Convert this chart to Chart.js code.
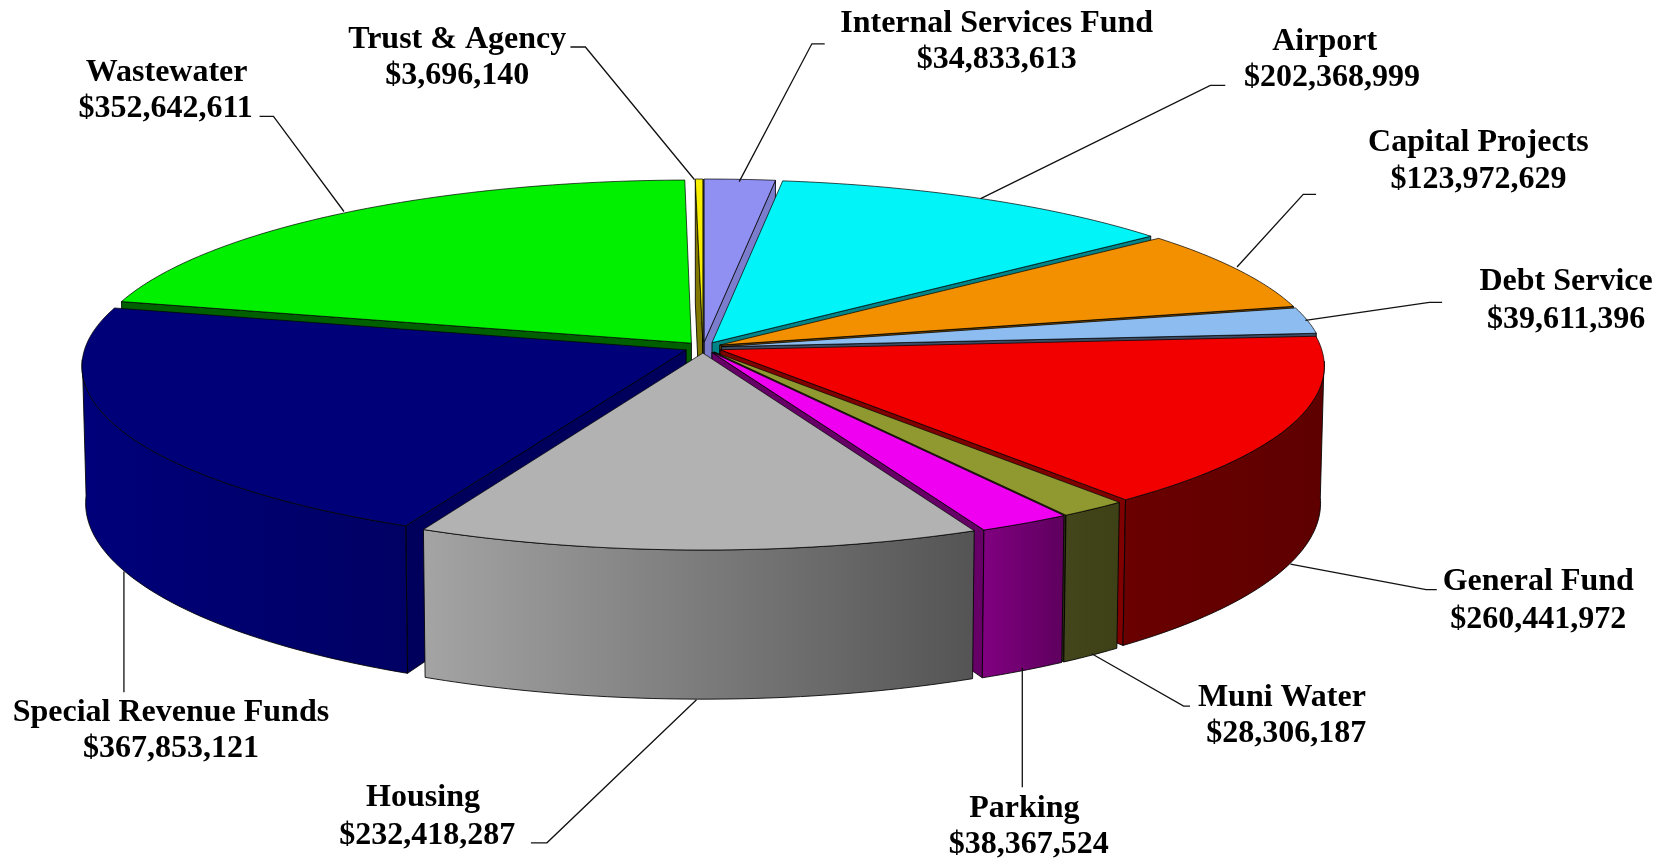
<!DOCTYPE html>
<html><head><meta charset="utf-8">
<style>html,body{margin:0;padding:0;background:#fff}canvas{display:block}</style>
<script src="https://cdn.jsdelivr.net/npm/chart.js@4"></script>
</head><body>
<canvas id="c" width="1675" height="860"></canvas>
<script>
const categories = ['Internal Services Fund','Airport','Capital Projects','Debt Service','General Fund','Muni Water','Parking','Housing','Special Revenue Funds','Wastewater','Trust & Agency'];
const amounts = [34833613,202368999,123972629,39611396,260441972,28306187,38367524,232418287,367853121,352642611,3696140];
const amountLabels = ['$34,833,613','$202,368,999','$123,972,629','$39,611,396','$260,441,972','$28,306,187','$38,367,524','$232,418,287','$367,853,121','$352,642,611','$3,696,140'];
const topColors = ['#9090F2','#00F4F8','#F29000','#8CBCF0','#F20000','#909830','#F000F0','#B2B2B2','#000078','#00F000','#F8F000'];
const wallLeft = ['#7C7CD0','#00A0A4','#A06000','#6080A8','#6A0000','#42461A','#800080','#A4A4A4','#00007A','#008000','#807800'];
const wallRight = ['#7070C0','#008088','#905000','#506C90','#5E0000','#3E4016','#5E005E','#545454','#000064','#006800','#706800'];
const cutColors = ['#7C7CCC','#008488','#704400','#3C4C64','#800000','#2A2C10','#660066','#6E6E6E','#00005C','#006000','#807800'];
// label text centres (line 1 x, line 2 x, line 1 y, line 2 y) in reference px at 1568 wide
const labelBoxes = [[933,933,22,56],[1240,1247,39,73],[1384,1384,134,168],[1466,1466,264,299],[1440,1440,545,580],[1200,1204,653,687],[959,963,757,791],[396,400,747,782],[160,160,667,701],[156,155,68,102],[428,428,37,71]];
const leaders = [[[772,41],[760,41],[692,170]],[[1147,80],[1133,80],[918,186]],[[1232,182],[1220,182],[1158,250]],[[1350,283],[1338,283],[1222,300]],[[1345,552],[1335,552],[1208,528]],[[1114,661],[1108,661],[1022,612]],[[957,737],[957,625]],[[497,789],[512,789],[652,655]],[[116,648],[116,535]],[[243,109],[256,109],[322,198]],[[534,44],[548,44],[650,168]]];
const S = 1675/1568;
const CX=703, CY=347.5, A=601, B=178.4, K=0.0889, D0=135.5, EXPLODE=0.031, BOTTOM_SCALE=0.994;

function project(X,Y,z){
  const w=1/(1-K*Y);
  return [CX+A*X*w*(1-(1-BOTTOM_SCALE)*z), CY+(B*Y+D0*z)*w];
}
function poly(ctx,pts){
  ctx.beginPath();
  pts.forEach((p,i)=>i?ctx.lineTo(p[0],p[1]):ctx.moveTo(p[0],p[1]));
  ctx.closePath();
}
function area(pts){
  let a=0;
  for(let i=0;i<pts.length;i++){const p=pts[i],q=pts[(i+1)%pts.length];a+=p[0]*q[1]-q[0]*p[1];}
  return a/2;
}
const pie3d = {
  id:'pie3d',
  beforeDatasetsDraw(chart){
    const ctx=chart.ctx, meta=chart.getDatasetMeta(0);
    const slices=meta.data.map((el,i)=>{
      const t0=el.startAngle+Math.PI/2, t1=el.endAngle+Math.PI/2, mid=(t0+t1)/2;
      return {i,t0,t1,mid,ox:EXPLODE*Math.sin(mid),oy:-EXPLODE*Math.cos(mid)};
    }).sort((a,b)=>a.oy-b.oy);
    ctx.save();
    ctx.lineJoin='round';
    for(const s of slices){
      const P=(r,t,z)=>project(s.ox+r*Math.sin(t),s.oy-r*Math.cos(t),z);
      const n=Math.max(2,Math.ceil((s.t1-s.t0)/(Math.PI/180)));
      const rim=(z,a=s.t0,b=s.t1)=>{const o=[];const m=Math.max(2,Math.ceil((b-a)/(Math.PI/180)));for(let j=0;j<=m;j++)o.push(P(1,a+(b-a)*j/m,z));return o;};
      // cut walls
      [[s.t0,-1],[s.t1,1]].forEach(([t,sign])=>{
        const w=[P(0,t,0),P(1,t,0),P(1,t,1),P(0,t,1)];
        if(area(w)*sign>0){
          poly(ctx,w);ctx.fillStyle=cutColors[s.i];ctx.fill();
          ctx.strokeStyle='rgba(0,0,0,.85)';ctx.lineWidth=1;ctx.stroke();
        }
      });
      // outer wall: only the part facing the viewer
      const front=[];
      for(let j=0;j<=n;j++){const t=s.t0+(s.t1-s.t0)*j/n;if(-Math.cos(t)>K*0.6)front.push(t);}
      if(front.length>1){
        const a=front[0],b=front[front.length-1];
        const up=rim(0,a,b),dn=rim(1,a,b).reverse();
        const xs=up.map(p=>p[0]);
        const g=ctx.createLinearGradient(Math.min(...xs),0,Math.max(...xs),0);
        g.addColorStop(0,wallLeft[s.i]);g.addColorStop(1,wallRight[s.i]);
        poly(ctx,up.concat(dn));ctx.fillStyle=g;ctx.fill();
        ctx.strokeStyle='rgba(0,0,0,.85)';ctx.lineWidth=1;ctx.stroke();
      }
      // top face
      poly(ctx,[P(0,s.t0,0)].concat(rim(0)));
      ctx.fillStyle=topColors[s.i];ctx.fill();
      ctx.strokeStyle='rgba(0,0,0,.7)';ctx.lineWidth=1;ctx.stroke();
    }
    ctx.restore();
    return false;
  },
  afterDraw(chart){
    const ctx=chart.ctx;
    ctx.save();
    ctx.strokeStyle='#111';ctx.lineWidth=1.3;
    leaders.forEach(l=>{
      ctx.beginPath();
      l.forEach((p,i)=>i?ctx.lineTo(p[0]*S,p[1]*S):ctx.moveTo(p[0]*S,p[1]*S));
      ctx.stroke();
    });
    ctx.fillStyle='#000';
    ctx.font='bold 32px "Liberation Serif"';
    ctx.textAlign='center';ctx.textBaseline='middle';
    categories.forEach((c,i)=>{
      const b=labelBoxes[i];
      ctx.fillText(c,b[0]*S,b[2]*S);
      ctx.fillText(amountLabels[i],b[1]*S,b[3]*S);
    });
    ctx.restore();
  }
};
new Chart(document.getElementById('c'),{
  type:'pie',
  data:{labels:categories,datasets:[{data:amounts,backgroundColor:topColors,borderWidth:0}]},
  options:{responsive:false,animation:false,devicePixelRatio:1,
    plugins:{legend:{display:false},tooltip:{enabled:false}}},
  plugins:[pie3d]
});
</script>
</body></html>
